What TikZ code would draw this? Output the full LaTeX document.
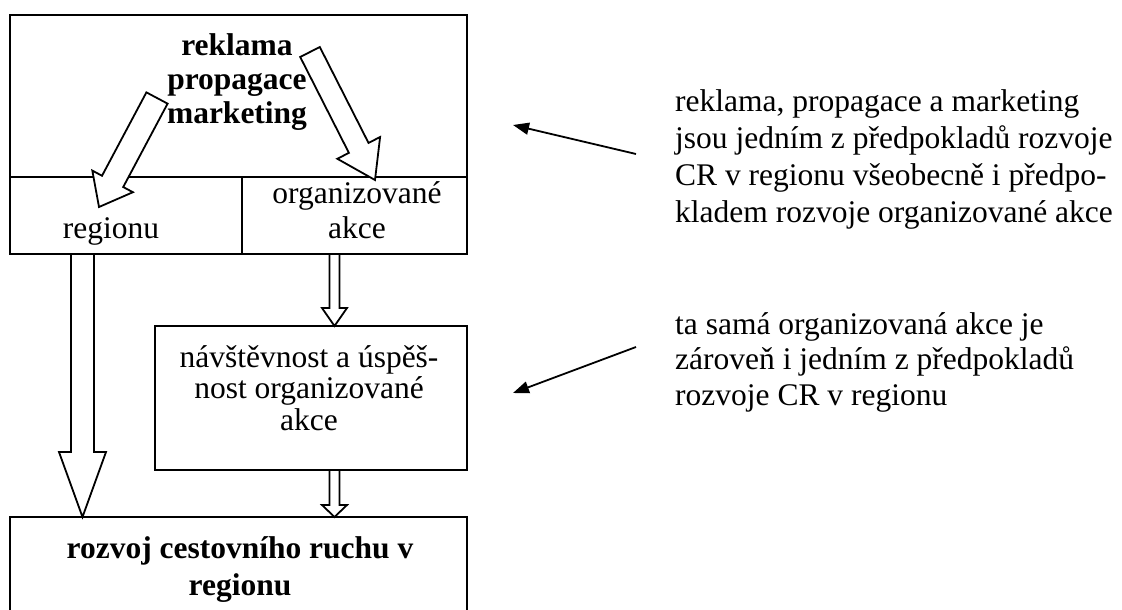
\documentclass[tikz,border=0pt]{standalone}
\usepackage{fontspec}
\setmainfont{Liberation Serif}
\usetikzlibrary{calc,arrows.meta}
\newcommand\blockarrow[5]{% tail, tip, shaft half width, head half width, head length
  \path ($(#2)!#5!(#1)$) coordinate (babase);
  \draw[blk] ($(#1)!#3!90:(#2)$) -- ($(babase)!#3!90:(#2)$) -- ($(babase)!#4!90:(#2)$) -- (#2)
     -- ($(babase)!#4!-90:(#2)$) -- ($(babase)!#3!-90:(#2)$) -- ($(#1)!#3!-90:(#2)$) -- cycle;
}
\tikzset{
  box/.style={draw, line width=1.8pt, inner sep=0pt},
  rule/.style={line width=1.8pt},
  blk/.style={draw, fill=white, line width=1.8pt, line join=miter},
  ptr/.style={line width=1.8pt, -{Triangle[length=16pt,width=12pt]}},
  txt/.style={font=\fontsize{31.5}{35}\selectfont, align=center, inner sep=0pt, anchor=base},
}
\begin{document}
\begin{tikzpicture}[x=1pt,y=-1pt]
\useasboundingbox (0,0) rectangle (1122,610);
\clip (0,0) rectangle (1122,610);
% boxes
\node[box, minimum width=457pt, minimum height=239pt] (top) at (238.5,134.5) {};
\node[box, minimum width=312pt, minimum height=144pt] (mid) at (311,398) {};
\node[box, minimum width=457pt, minimum height=130pt] (bot) at (238.5,582) {};
\coordinate (hl) at (10,177);
\coordinate (hr) at (467,177);
\draw[rule] (hl) -- (hr);
\coordinate (dv) at (242,177);
\draw[rule] (dv) -- (dv |- top.south);
% block arrows
\coordinate (a1s) at (157,98);  \coordinate (a1e) at (99,207);
\blockarrow{a1s}{a1e}{12pt}{23pt}{29pt}
\coordinate (a2s) at (310,52);  \coordinate (a2e) at (375,180);
\blockarrow{a2s}{a2e}{11pt}{24pt}{36pt}
\coordinate (a3s) at (82.5,254); \coordinate (a3e) at (82.5,517);
\blockarrow{a3s}{a3e}{11.5pt}{23.5pt}{65pt}
\coordinate (a4s) at (334.5,254); \coordinate (a4e) at (334.5,326);
\blockarrow{a4s}{a4e}{5pt}{12.5pt}{18pt}
\coordinate (a5s) at (334.5,470); \coordinate (a5e) at (334.5,517);
\blockarrow{a5s}{a5e}{5pt}{12.5pt}{12pt}
% texts (base anchor = baseline of the last line)
\node[txt, font=\fontsize{31.5}{34}\selectfont\bfseries] (t1) at (237,123) {reklama\\propagace\\marketing};
\node[txt] (t2) at (111,238) {regionu};
\node[txt] (t3) at (357,238) {organizované\\akce};
\node[txt, font=\fontsize{31.5}{31.5}\selectfont] (t4) at (309,430) {návštěvnost a úspěš-\\nost organizované\\akce};
\node[txt, font=\fontsize{31.5}{37}\selectfont\bfseries] (t5) at (240,595) {rozvoj cestovního ruchu v\\regionu};
\node[txt, align=left, anchor=base west, font=\fontsize{31.5}{36.7}\selectfont] (n1) at (675,222)
  {reklama, propagace a marketing\\jsou jedním z předpokladů rozvoje\\CR v regionu všeobecně i předpo-\\kladem rozvoje organizované akce};
\node[txt, align=left, anchor=base west, font=\fontsize{31.5}{35.5}\selectfont] (n2) at (675,405)
  {ta samá organizovaná akce je\\zároveň i jedním z předpokladů\\rozvoje CR v regionu};
% pointers
\coordinate (p1s) at (636,154); \coordinate (p1e) at (513,125);
\draw[ptr] (p1s) -- (p1e);
\coordinate (p2s) at (636,347); \coordinate (p2e) at (513,393);
\draw[ptr] (p2s) -- (p2e);
\end{tikzpicture}
\end{document}
